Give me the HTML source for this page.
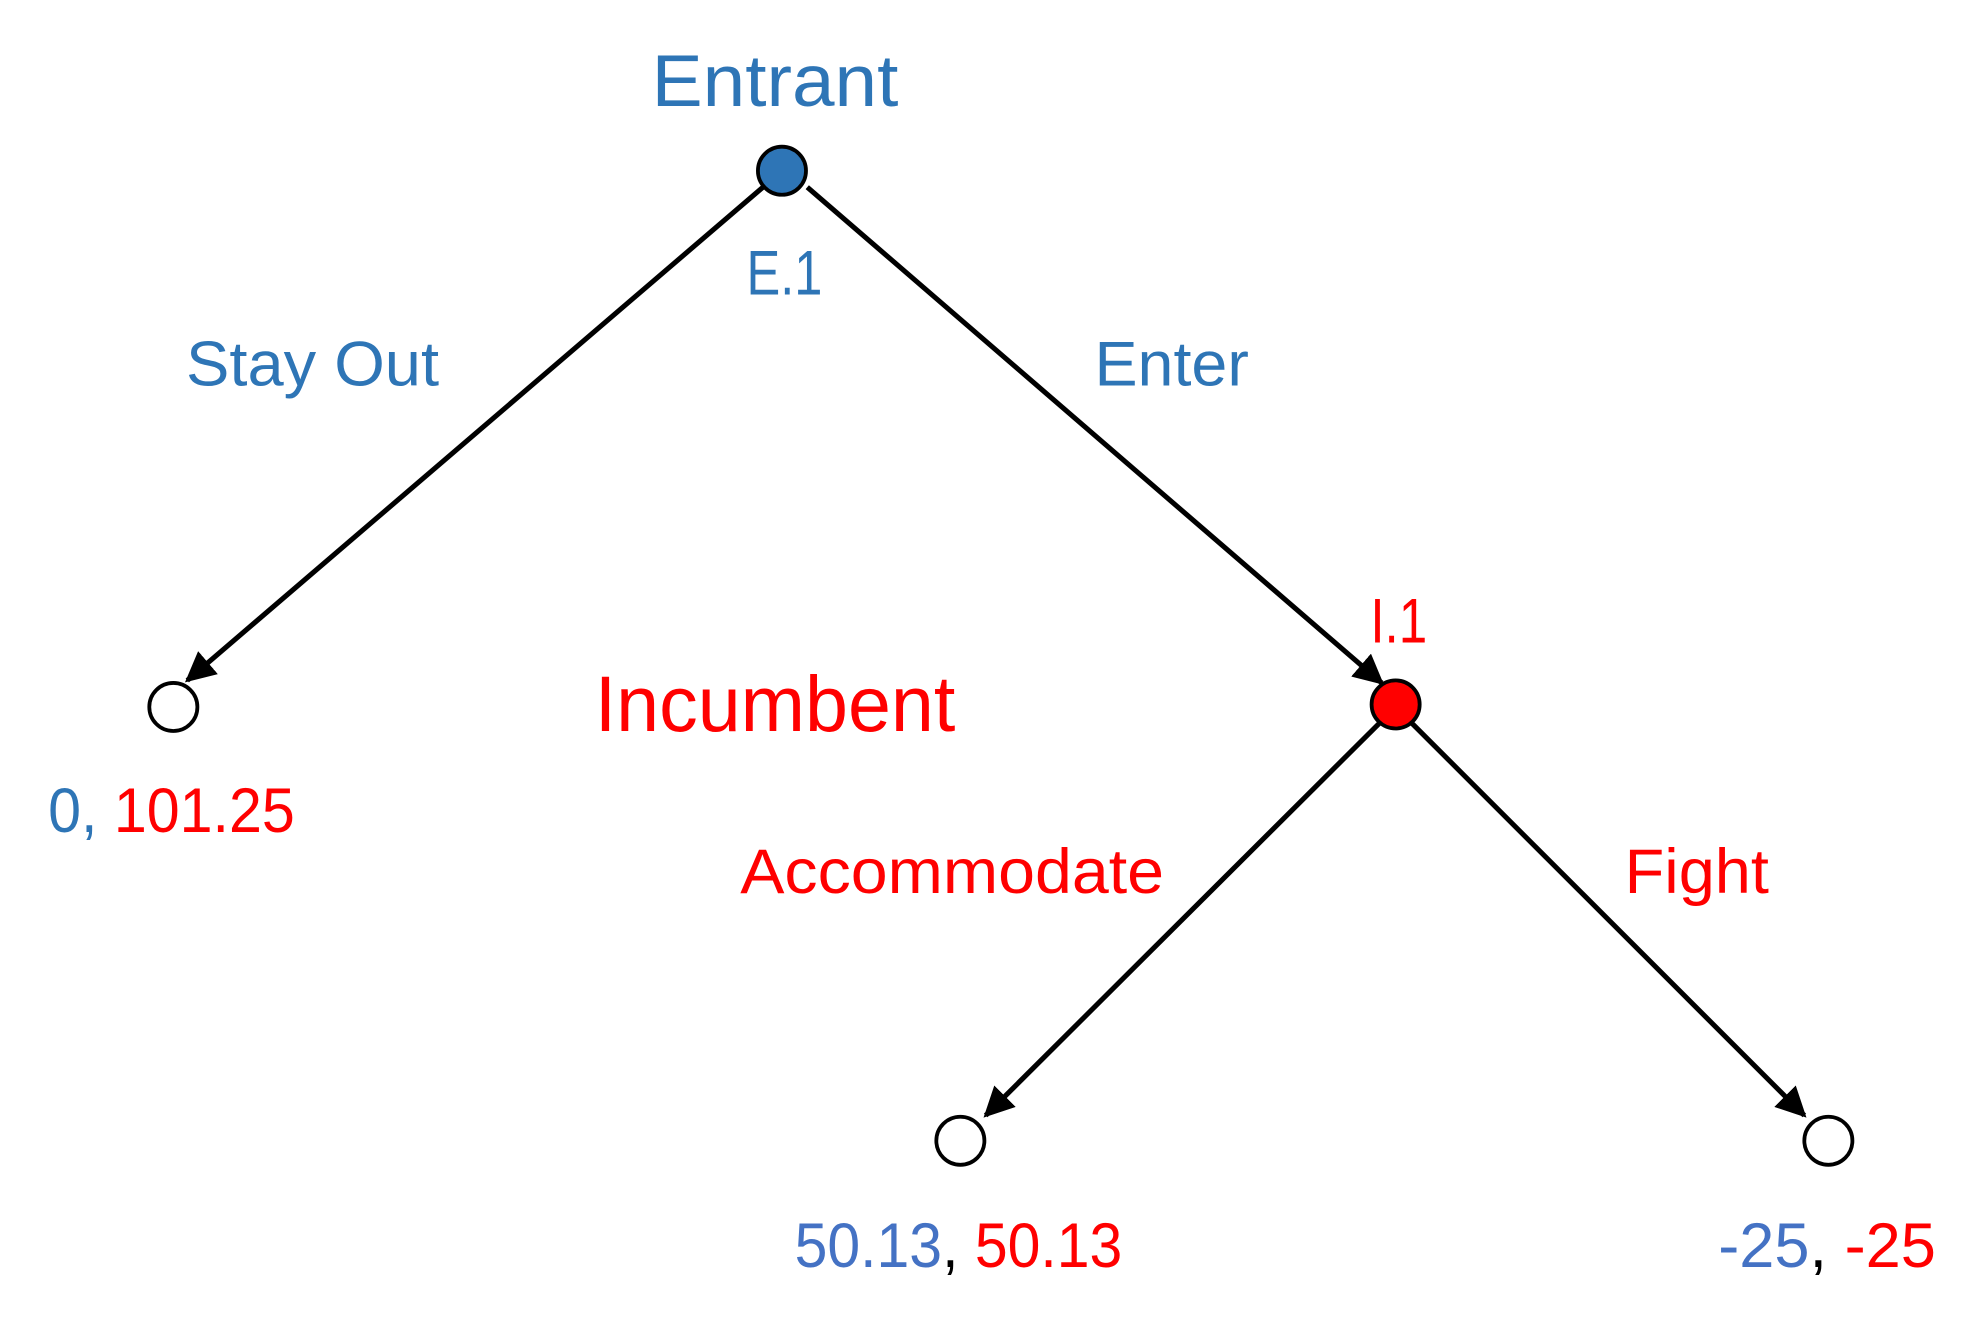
<!DOCTYPE html>
<html><head><meta charset="utf-8"><style>
html,body{margin:0;padding:0;background:#fff}
svg{display:block}
text{font-family:"Liberation Sans",sans-serif}
</style></head><body>
<svg width="1984" height="1333" viewBox="0 0 1568 1054" preserveAspectRatio="none">
<defs><marker id="ah" viewBox="0 0 10 10" refX="9" refY="5" markerWidth="6" markerHeight="6" orient="auto"><path d="M0,0 L10,5 L0,10 z" fill="#000"/></marker></defs>
<g stroke="#000" stroke-width="4" marker-end="url(#ah)">
<line x1="603" y1="148" x2="148" y2="538"/>
<line x1="638" y1="148" x2="1092" y2="540"/>
<line x1="1090" y1="572" x2="779" y2="882"/>
<line x1="1116" y1="572" x2="1426" y2="882"/>
</g>
<circle cx="618" cy="135" r="19" fill="#2e75b6" stroke="#000" stroke-width="3"/>
<circle cx="1103" cy="557" r="19" fill="#ff0000" stroke="#000" stroke-width="3"/>
<circle cx="137" cy="559" r="19" fill="#fff" stroke="#000" stroke-width="3"/>
<circle cx="759" cy="902" r="19" fill="#fff" stroke="#000" stroke-width="3"/>
<circle cx="1445" cy="902" r="19" fill="#fff" stroke="#000" stroke-width="3"/>
<g fill="#2e75b6">
<text x="515" y="84" font-size="58" textLength="195" lengthAdjust="spacingAndGlyphs">Entrant</text>
<text x="590" y="233" font-size="50" textLength="60" lengthAdjust="spacingAndGlyphs">E.1</text>
<text x="147" y="305" font-size="50" textLength="200" lengthAdjust="spacingAndGlyphs">Stay Out</text>
<text x="865" y="305" font-size="50" textLength="122" lengthAdjust="spacingAndGlyphs">Enter</text>
</g>
<g fill="#ff0000">
<text x="1083" y="508" font-size="50" textLength="45" lengthAdjust="spacingAndGlyphs">I.1</text>
<text x="470" y="578" font-size="62" textLength="285" lengthAdjust="spacingAndGlyphs">Incumbent</text>
<text x="585" y="706" font-size="50" textLength="335" lengthAdjust="spacingAndGlyphs">Accommodate</text>
<text x="1284" y="706" font-size="50" textLength="114" lengthAdjust="spacingAndGlyphs">Fight</text>
</g>
<text x="38" y="658" font-size="50" textLength="195" lengthAdjust="spacingAndGlyphs"><tspan fill="#2e75b6">0, </tspan><tspan fill="#ff0000">101.25</tspan></text>
<text x="628" y="1002" font-size="50" textLength="259" lengthAdjust="spacingAndGlyphs"><tspan fill="#4472c4">50.13</tspan><tspan fill="#000">, </tspan><tspan fill="#ff0000">50.13</tspan></text>
<text x="1358" y="1002" font-size="50" textLength="172" lengthAdjust="spacingAndGlyphs"><tspan fill="#4472c4">-25</tspan><tspan fill="#000">, </tspan><tspan fill="#ff0000">-25</tspan></text>
</svg>
</body></html>
